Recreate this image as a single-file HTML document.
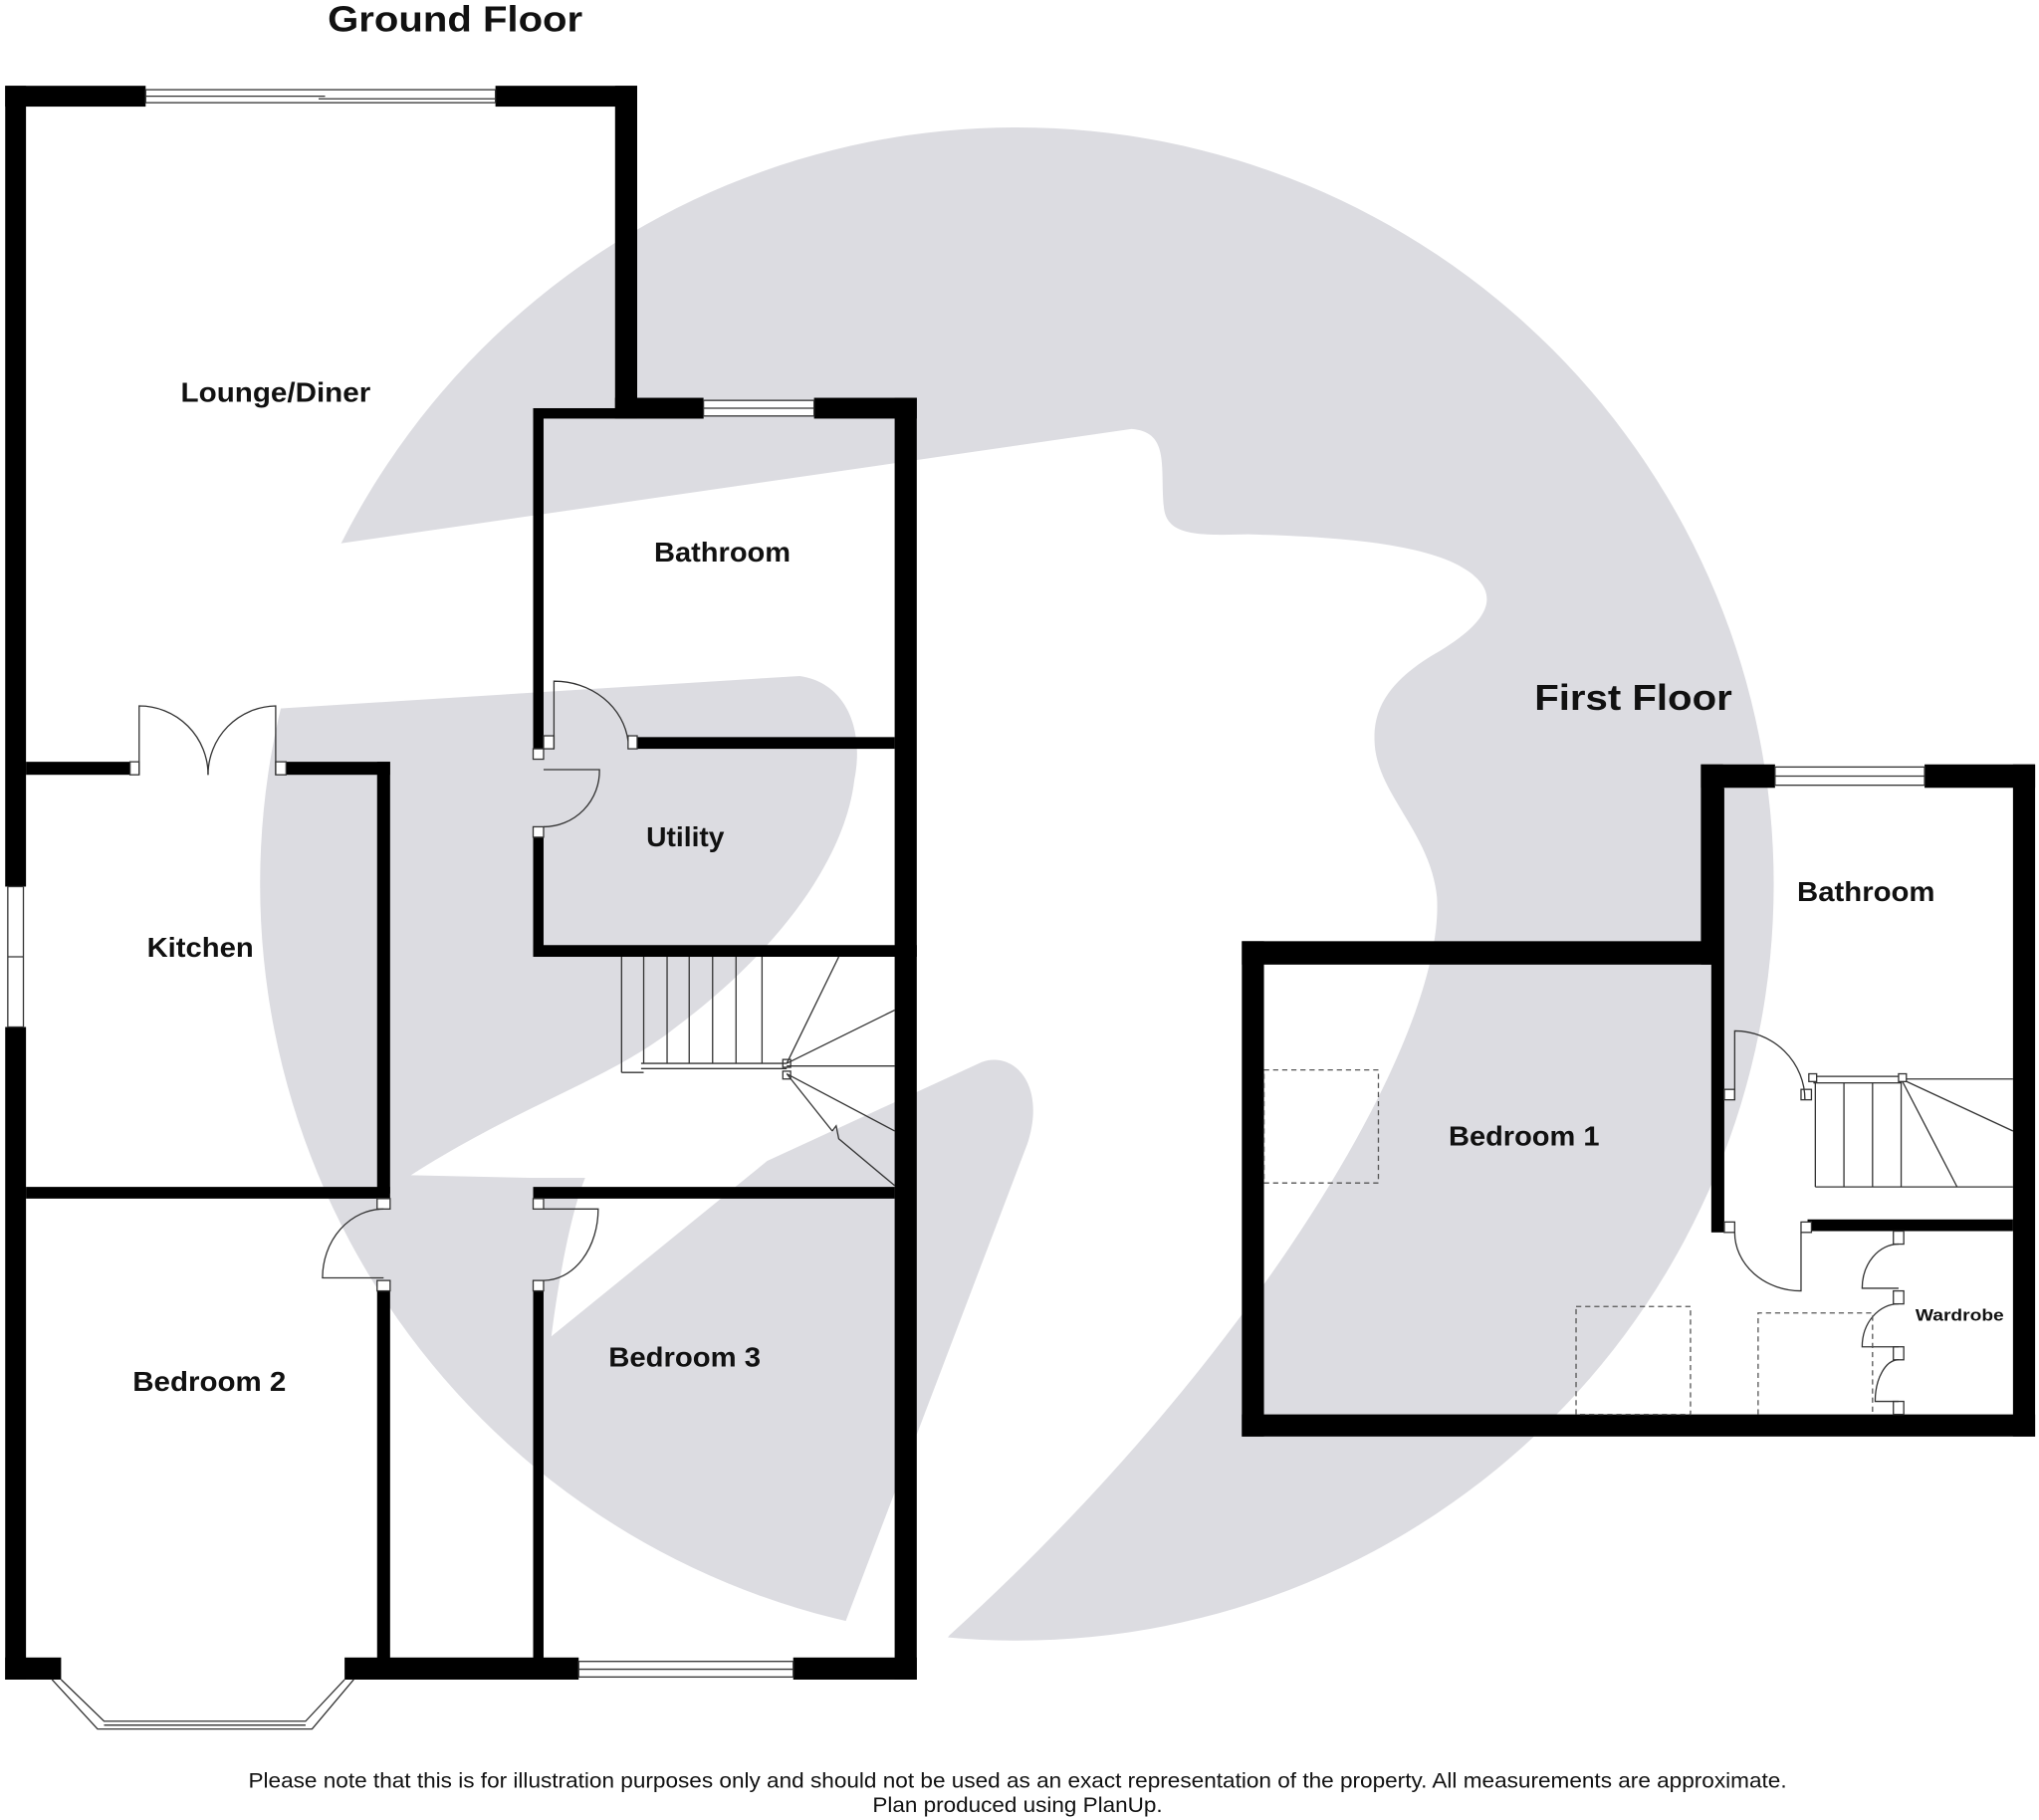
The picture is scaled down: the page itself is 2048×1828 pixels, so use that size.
<!DOCTYPE html>
<html><head><meta charset="utf-8"><style>
html,body{margin:0;padding:0;background:#fff;width:2048px;height:1828px;overflow:hidden}
svg{display:block}
text{font-family:"Liberation Sans",Arial,sans-serif;font-weight:bold;fill:#111}
</style></head><body>
<svg width="2048" height="1828" viewBox="0 0 1568 1400" preserveAspectRatio="none" xmlns="http://www.w3.org/2000/svg">
<!-- watermark -->
<circle cx="782" cy="680" r="582" fill="#dcdce1"/>
<path fill="#fff" d="M262,418 L870,330 C900,332 892,360 895,390 C897,412 920,412 960,411 C1030,413 1100,418 1130,440 C1160,462 1135,485 1100,505 C1068,525 1056,545 1057,570 C1058,610 1100,640 1105,690 C1112,800 960,1050 730,1258 L700,1300 L650,1248 L790,880 C805,835 780,808 755,817 L590,893 L424,1028 C430,980 440,930 450,906 L407,906 L316,904 C400,850 470,830 520,790 C600,730 650,660 657,600 C665,560 650,525 615,520 L215,545 L150,480 Z"/>
<g fill="#000">
<rect x="4" y="66" width="108" height="16"/>
<rect x="381" y="66" width="109" height="16"/>
<rect x="4" y="66" width="16" height="616"/>
<rect x="4" y="790" width="16" height="502"/>
<rect x="473" y="66" width="17" height="256"/>
<rect x="410" y="314" width="131" height="8"/>
<rect x="473" y="306" width="68" height="16"/>
<rect x="626" y="306" width="79" height="16"/>
<rect x="688" y="306" width="17" height="986"/>
<rect x="410" y="314" width="8" height="262"/>
<rect x="410" y="636" width="8" height="100"/>
<rect x="483" y="567" width="205" height="9"/>
<rect x="410" y="727" width="295" height="9"/>
<rect x="20" y="586" width="80" height="10"/>
<rect x="220" y="586" width="80" height="10"/>
<rect x="290" y="586" width="10" height="332"/>
<rect x="20" y="913" width="280" height="9"/>
<rect x="290" y="985" width="10" height="300"/>
<rect x="410" y="913" width="278" height="9"/>
<rect x="410" y="985" width="8" height="300"/>
<rect x="4" y="1275" width="43" height="17"/>
<rect x="265" y="1275" width="180" height="17"/>
<rect x="610" y="1275" width="95" height="17"/>
<rect x="955" y="724" width="361" height="18"/>
<rect x="955" y="724" width="17" height="381"/>
<rect x="955" y="1088" width="610" height="17"/>
<rect x="1548" y="588" width="17" height="517"/>
<rect x="1308" y="588" width="57" height="18"/>
<rect x="1480" y="588" width="85" height="18"/>
<rect x="1308" y="588" width="17" height="154"/>
<rect x="1316" y="606" width="10" height="342"/>
<rect x="1390" y="938" width="158" height="9"/>
</g>
<g fill="#fff" stroke="#333" stroke-width="1">
<rect x="112" y="69" width="269" height="10"/>
<rect x="6" y="682" width="12" height="108"/>
<rect x="541" y="308" width="85" height="12"/>
<rect x="445" y="1278" width="165" height="12"/>
<rect x="1365" y="590" width="115" height="14"/>
<rect x="418" y="566" width="8" height="10"/>
<rect x="483" y="566" width="7" height="10"/>
<rect x="410" y="576" width="8" height="8"/>
<rect x="410" y="636" width="8" height="8"/>
<rect x="100" y="586" width="7" height="10"/>
<rect x="212" y="586" width="8" height="10"/>
<rect x="290" y="922" width="10" height="8"/>
<rect x="290" y="985" width="10" height="8"/>
<rect x="410" y="922" width="8" height="8"/>
<rect x="410" y="985" width="8" height="8"/>
<rect x="1326" y="838" width="8" height="8"/>
<rect x="1385" y="838" width="8" height="8"/>
<rect x="1326" y="940" width="8" height="8"/>
<rect x="1385" y="940" width="8" height="8"/>
<rect x="1456" y="947" width="8" height="10"/>
<rect x="1456" y="993" width="8" height="10"/>
<rect x="1456" y="1036" width="8" height="10"/>
<rect x="1456" y="1078" width="8" height="10"/>
</g>
<g fill="none" stroke="#333" stroke-width="1">
<line x1="112" y1="74" x2="250" y2="74"/><line x1="245" y1="76" x2="381" y2="76"/>
<line x1="6" y1="736" x2="18" y2="736"/>
<line x1="541" y1="314" x2="626" y2="314"/>
<line x1="445" y1="1284" x2="610" y2="1284"/>
<line x1="1365" y1="597" x2="1480" y2="597"/>
<polyline points="40,1292 75,1330 240,1330 272,1292"/>
<polyline points="47,1292 80,1324 235,1324 265,1292"/>
<line x1="80" y1="1327" x2="235" y2="1327"/>
<path d="M426,576 L426,524 A57,52 0 0 1 483,570"/>
<path d="M418,636 A43,43 0 0 0 461,592 L418,592"/>
<path d="M107,596 L107,543 A53,53 0 0 1 160,596"/>
<path d="M212,596 L212,543 A53,53 0 0 0 160,596"/>
<path d="M295,930 A47,53 0 0 0 248,983 L295,983"/>
<path d="M418,985 A42,55 0 0 0 460,930 L418,930"/>
<path d="M1334,846 L1334,793 A54,53 0 0 1 1388,846"/>
<path d="M1334,948 A51,45 0 0 0 1385,993 L1385,948"/>
<path d="M1460,957 A28,34 0 0 0 1432,991 L1460,991"/>
<path d="M1460,1003 A28,33 0 0 0 1432,1036 L1460,1036"/>
<path d="M1460,1046 A18,32 0 0 0 1442,1078 L1460,1078"/>
<line x1="478" y1="736" x2="478" y2="825"/><line x1="478" y1="825" x2="495" y2="825"/>
<line x1="495" y1="736" x2="495" y2="818"/><line x1="513" y1="736" x2="513" y2="818"/>
<line x1="530" y1="736" x2="530" y2="818"/><line x1="548" y1="736" x2="548" y2="818"/>
<line x1="566" y1="736" x2="566" y2="818"/><line x1="586" y1="736" x2="586" y2="818"/>
<line x1="493" y1="818" x2="605" y2="818"/><line x1="493" y1="822" x2="605" y2="822"/>
<line x1="605" y1="818" x2="645" y2="736"/>
<line x1="605" y1="818" x2="688" y2="777"/>
<line x1="605" y1="820" x2="688" y2="820"/>
<line x1="605" y1="826" x2="688" y2="870"/>
<line x1="605" y1="826" x2="640" y2="870"/><polyline points="640,870 643,866 645,876 688,912"/>
<rect x="602" y="815" width="6" height="6"/><rect x="602" y="824" width="6" height="6"/>
<rect x="1395" y="828" width="67" height="5"/>
<line x1="1396" y1="833" x2="1396" y2="913"/><line x1="1418" y1="833" x2="1418" y2="913"/>
<line x1="1440" y1="833" x2="1440" y2="913"/><line x1="1462" y1="833" x2="1462" y2="913"/>
<line x1="1396" y1="913" x2="1548" y2="913"/>
<line x1="1462" y1="830" x2="1548" y2="830"/>
<line x1="1462" y1="830" x2="1548" y2="870"/>
<line x1="1462" y1="830" x2="1505" y2="913"/>
<rect x="1391" y="826" width="6" height="6" fill="#fff"/><rect x="1460" y="826" width="6" height="6" fill="#fff"/>
</g>
<g fill="none" stroke="#555" stroke-width="1" stroke-dasharray="4,3">
<rect x="972" y="823" width="88" height="87"/>
<rect x="1212" y="1005" width="88" height="83"/>
<path d="M1352,1088 L1352,1010 L1440,1010 L1440,1088"/>
</g>
<text x="252" y="24" font-size="28" textLength="196" lengthAdjust="spacingAndGlyphs">Ground Floor</text>
<text x="1180" y="546" font-size="28" textLength="152" lengthAdjust="spacingAndGlyphs">First Floor</text>
<g font-size="21">
<text x="139" y="309" textLength="146" lengthAdjust="spacingAndGlyphs">Lounge/Diner</text>
<text x="503" y="432" textLength="105" lengthAdjust="spacingAndGlyphs">Bathroom</text>
<text x="497" y="651" textLength="60" lengthAdjust="spacingAndGlyphs">Utility</text>
<text x="113" y="736" textLength="82" lengthAdjust="spacingAndGlyphs">Kitchen</text>
<text x="102" y="1070" textLength="118" lengthAdjust="spacingAndGlyphs">Bedroom 2</text>
<text x="468" y="1051" textLength="117" lengthAdjust="spacingAndGlyphs">Bedroom 3</text>
<text x="1114" y="881" textLength="116" lengthAdjust="spacingAndGlyphs">Bedroom 1</text>
<text x="1382" y="693" textLength="106" lengthAdjust="spacingAndGlyphs">Bathroom</text>
</g>
<text x="1473" y="1016" font-size="13" textLength="68" lengthAdjust="spacingAndGlyphs">Wardrobe</text>
<text x="191" y="1375" font-size="16" style="font-weight:normal" textLength="1183" lengthAdjust="spacingAndGlyphs">Please note that this is for illustration purposes only and should not be used as an exact representation of the property. All measurements are approximate.</text>
<text x="671" y="1394" font-size="16" style="font-weight:normal" textLength="223" lengthAdjust="spacingAndGlyphs">Plan produced using PlanUp.</text>
</svg>
</body></html>
